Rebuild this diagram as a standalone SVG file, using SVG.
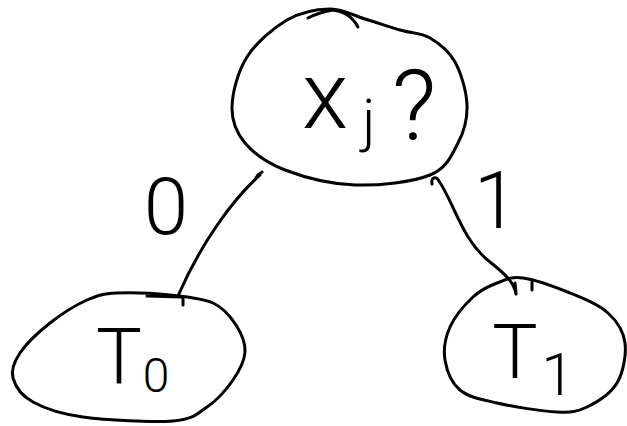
<svg xmlns="http://www.w3.org/2000/svg" width="627" height="426" viewBox="0 0 627 426">
<style>
.ink{fill:none;stroke:#000;stroke-width:3;stroke-linecap:round;stroke-linejoin:round}
.t{font-family:Roboto,"Liberation Sans",sans-serif;font-weight:300;fill:#000;text-anchor:middle}
</style>
<rect width="627" height="426" fill="#fff"/>
<g id="connectors">
<path class="ink" d="M256,178 Q258,174 262,172 M260,175 C232,200 200,245 178,296"/>
<path class="ink" d="M432,184 C431,177 436,176 439,181 C455,205 462,240 490,262 C505,274 514,282 516,294"/>
<text class="t" x="166" y="234" font-size="80">0</text>
<text class="t" x="496" y="228" font-size="80">1</text>
</g>
<g id="node-xj">
<path class="ink" d="M330,9 C343,8.8 353.3,15.5 365,19 C376.7,22.5 389.2,26.8 400,30 C410.8,33.2 420.8,32.7 430,38 C439.2,43.3 448.8,50.8 455,62 C461.2,73.2 466.5,91.5 467,105 C467.5,118.5 464.2,131.3 458,143 C451.8,154.7 447.2,168 430,175 C412.8,182 379.2,185.8 355,185 C330.8,184.2 303.3,177 285,170 C266.7,163 253.8,153.5 245,143 C236.2,132.5 231.7,121.3 232,107 C232.3,92.7 237.8,71.5 247,57 C256.2,42.5 273.2,28 287,20 C300.8,12 317,9.2 330,9 Z"/>
<path class="ink" d="M308,18 Q320,12 333,10 Q350,12 358,27"/>
<text class="t" x="325" y="128" font-size="95">x</text>
<text class="t" x="369" y="140" font-size="58">j</text>
<text class="t" x="414" y="140" font-size="98">?</text>
</g>
<g id="node-t0">
<path class="ink" d="M117,293 C130.8,292.2 154,293.3 170,295 C186,296.7 202,298 213,303 C224,308 230.7,316.8 236,325 C241.3,333.2 245.5,342.8 245,352 C244.5,361.2 239.3,370.8 233,380 C226.7,389.2 217,400.2 207,407 C197,413.8 193.7,419.3 173,421 C152.3,422.7 106.3,420.2 83,417 C59.7,413.8 44.7,408.5 33,402 C21.3,395.5 15.2,386.2 13,378 C10.8,369.8 13.8,362.2 20,353 C26.2,343.8 38.8,331.8 50,323 C61.2,314.2 75.8,305 87,300 C98.2,295 103.2,293.8 117,293 Z"/>
<path class="ink" d="M147,296 L182,297 M183,297 L183,305"/>
<text class="t" x="119" y="383" font-size="77">T</text>
<text class="t" x="156" y="392" font-size="48">0</text>
</g>
<g id="node-t1">
<path class="ink" d="M523,278 C535.2,279.7 555.8,287.2 570,293 C584.2,298.8 598.8,304.7 608,313 C617.2,321.3 623.5,331.3 625,343 C626.5,354.7 623.3,372.3 617,383 C610.7,393.7 597,402.2 587,407 C577,411.8 572,412.7 557,412 C542,411.3 513.2,406.7 497,403 C480.8,399.3 468.7,397.2 460,390 C451.3,382.8 446.7,370.5 445,360 C443.3,349.5 445.3,337.5 450,327 C454.7,316.5 465.2,304.3 473,297 C480.8,289.7 488.7,286.2 497,283 C505.3,279.8 510.8,276.3 523,278 Z"/>
<path class="ink" d="M515,283 L516,293 M532,282 L532,290"/>
<text class="t" x="515" y="378" font-size="76">T</text>
<text class="t" x="558" y="395" font-size="60">1</text>
</g>
</svg>
